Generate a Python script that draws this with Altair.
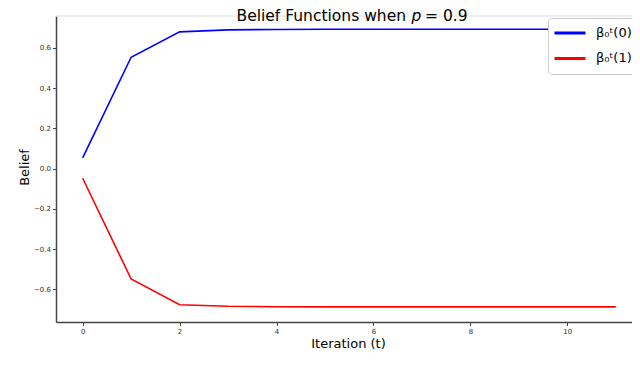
import altair as alt
import pandas as pd

iterations = list(range(12))
belief_0 = [0.053, 0.554, 0.680, 0.690, 0.692, 0.693, 0.693, 0.693, 0.693, 0.693, 0.693, 0.693]
belief_1 = [-0.048, -0.549, -0.677, -0.685, -0.687, -0.688, -0.688, -0.688, -0.688, -0.688, -0.688, -0.688]
series_names = ["β₀ᵗ(0)", "β₀ᵗ(1)"]
series_colors = ["#0000ff", "#ff0000"]
x_ticks = [0, 2, 4, 6, 8, 10]
y_ticks = [-0.6, -0.4, -0.2, 0.0, 0.2, 0.4, 0.6]
title_parts = ["Belief Functions when", "p", "= 0.9"]

rows = []
for t, v in zip(iterations, belief_0):
    rows.append({"t": t, "belief": v, "series": series_names[0]})
for t, v in zip(iterations, belief_1):
    rows.append({"t": t, "belief": v, "series": series_names[1]})
df = pd.DataFrame(rows)
one = pd.DataFrame({"k": [0]})

W, H = 584, 306
FONT = "DejaVu Sans"
TITLE_Y = 4.5

lines = alt.Chart(df).mark_line(strokeWidth=1.6).encode(
    x=alt.X("t:Q", scale=alt.Scale(domain=[-0.55, 11.5], nice=False, zero=False),
            axis=alt.Axis(values=x_ticks, format="d", title="Iteration (t)",
                          titleFont=FONT, titleFontSize=13, titleFontWeight="normal",
                          titleColor="#000", titleY=21, titleBaseline="middle",
                          labelFont=FONT, labelFontSize=7, labelColor="#333",
                          labelPadding=2, tickSize=3.5, tickColor="#444",
                          domainColor="#444", domainWidth=1.5, grid=False)),
    y=alt.Y("belief:Q", scale=alt.Scale(domain=[-0.763, 0.759], nice=False, zero=False),
            axis=alt.Axis(values=y_ticks, format=".1f", title="Belief",
                          titleFont=FONT, titleFontSize=13, titleFontWeight="normal",
                          titleColor="#000", titleX=-32, titleY=151, titleAngle=270,
                          titleAlign="center", titleBaseline="middle",
                          labelFont=FONT, labelFontSize=7, labelColor="#333",
                          labelPadding=2, tickSize=3.5, tickColor="#444",
                          domainColor="#444", domainWidth=1.5, grid=False)),
    color=alt.Color("series:N",
                    scale=alt.Scale(domain=series_names, range=series_colors),
                    legend=alt.Legend(title=None, orient="none", legendX=492, legendY=2,
                                      symbolType="stroke", symbolSize=961,
                                      symbolStrokeWidth=3, clipHeight=20,
                                      rowPadding=5.4, padding=5, labelOffset=9,
                                      labelFont=FONT, labelFontSize=13, labelColor="#000",
                                      fillColor="#ffffff", strokeColor="#cccccc",
                                      cornerRadius=3)),
)

top_spine = alt.Chart(one).mark_rule(color="#dddddd", strokeWidth=1).encode(
    x=alt.value(0), x2=alt.value(W + 10), y=alt.value(0)
)

title_a = alt.Chart(one).mark_text(font=FONT, fontSize=15.5, align="right",
                                   baseline="alphabetic", color="#000").encode(
    x=alt.value(350), y=alt.value(TITLE_Y), text=alt.value(title_parts[0]))
title_b = alt.Chart(one).mark_text(font=FONT, fontSize=15.5, fontStyle="italic",
                                   align="left", baseline="alphabetic", color="#000").encode(
    x=alt.value(355.5), y=alt.value(TITLE_Y), text=alt.value(title_parts[1]))
title_c = alt.Chart(one).mark_text(font=FONT, fontSize=15.5, align="left",
                                   baseline="alphabetic", color="#000").encode(
    x=alt.value(369), y=alt.value(TITLE_Y), text=alt.value(title_parts[2]))

chart = alt.layer(top_spine, lines, title_a, title_b, title_c).properties(
    width=W, height=H,
    autosize=alt.AutoSizeParams(type="none"),
    padding={"left": 48, "top": 8, "right": -8, "bottom": 40},
).configure_view(stroke=None)

chart.save("out.html", embed_options={"renderer": "svg", "actions": False})
